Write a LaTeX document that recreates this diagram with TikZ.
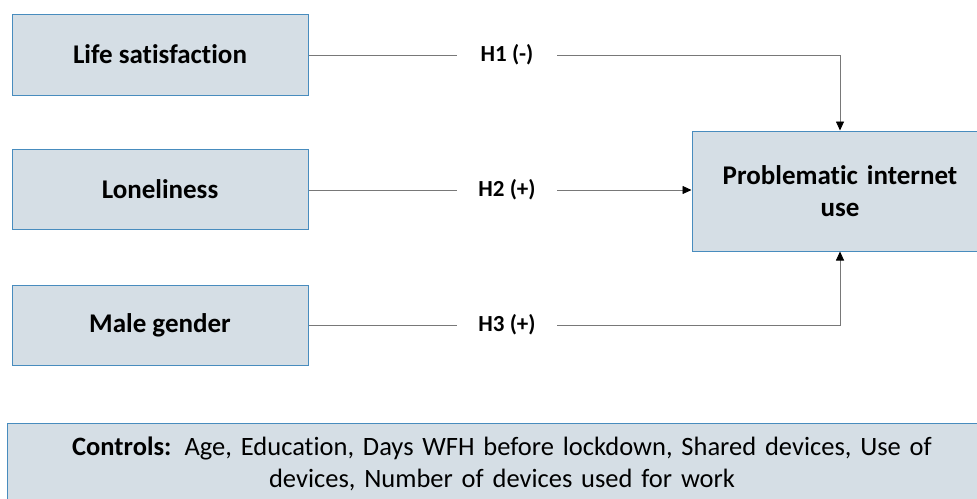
\documentclass[tikz,border=0pt]{standalone}
\usepackage{fontspec}
\setmainfont{Carlito}[Ligatures={NoCommon}]
\newfontfamily\tightfont{Carlito}[Ligatures={NoCommon}, WordSpace=0.65]
\usepackage{xcolor}
\usepackage{tikz}
\usetikzlibrary{arrows.meta, positioning}
\definecolor{boxfill}{RGB}{213,222,229}
\definecolor{boxline}{RGB}{72,140,190}
\definecolor{linegray}{RGB}{120,120,120}

\begin{document}
\begin{tikzpicture}[x=1pt, y=-1pt,
    varbox/.style={draw=boxline, fill=boxfill, line width=1pt, minimum width=296pt,
                   minimum height=80pt, align=center, font=\fontsize{27}{32}\selectfont\bfseries},
    hyp/.style={minimum width=100pt, inner sep=0pt, font=\fontsize{23}{26}\selectfont\bfseries},
    path/.style={draw=linegray, line width=0.8pt},
    arr/.style={path, -{Triangle[length=9pt, width=8pt, color=black]}}]
  \clip (0,0) rectangle (977,498);
  \useasboundingbox (0,0) rectangle (977,498);
  % predictors
  \node[varbox, minimum height=81pt] (lifesat) at (160,54.5) {Life satisfaction};
  \node[varbox] (lonely) at (160,189) {Loneliness};
  \node[varbox] (male) at (160,325) {Male gender};
  % outcome
  \node[varbox, minimum height=120pt, text width=280pt,
        font=\tightfont\fontsize{27}{32}\selectfont\bfseries] (piu) at (840,191)
        {Problematic internet\\use};
  % hypotheses
  \node[hyp] (h1) at (507,55) {H1 (-)};
  \node[hyp] (h2) at (507,190) {H2 (+)};
  \node[hyp] (h3) at (507,325) {H3 (+)};
  \draw[path] (lifesat.east |- h1) -- (h1.west);
  \draw[arr] (h1.east) -| (piu.north);
  \draw[path] (lonely.east |- h2) -- (h2.west);
  \draw[arr] (h2.east) -- (piu.west |- h2);
  \draw[path] (male.east |- h3) -- (h3.west);
  \draw[arr] (h3.east) -| (piu.south);
  % controls
  \node[draw=boxline, fill=boxfill, line width=1pt, minimum width=990pt, minimum height=82pt,
        text width=960pt, align=center, font=\tightfont\fontsize{26.5}{32}\selectfont]
        (ctrl) at (502,464)
        {\textbf{Controls:} Age, Education, Days WFH before lockdown, Shared devices, Use of\\
         devices, Number of devices used for work};
\end{tikzpicture}
\end{document}
